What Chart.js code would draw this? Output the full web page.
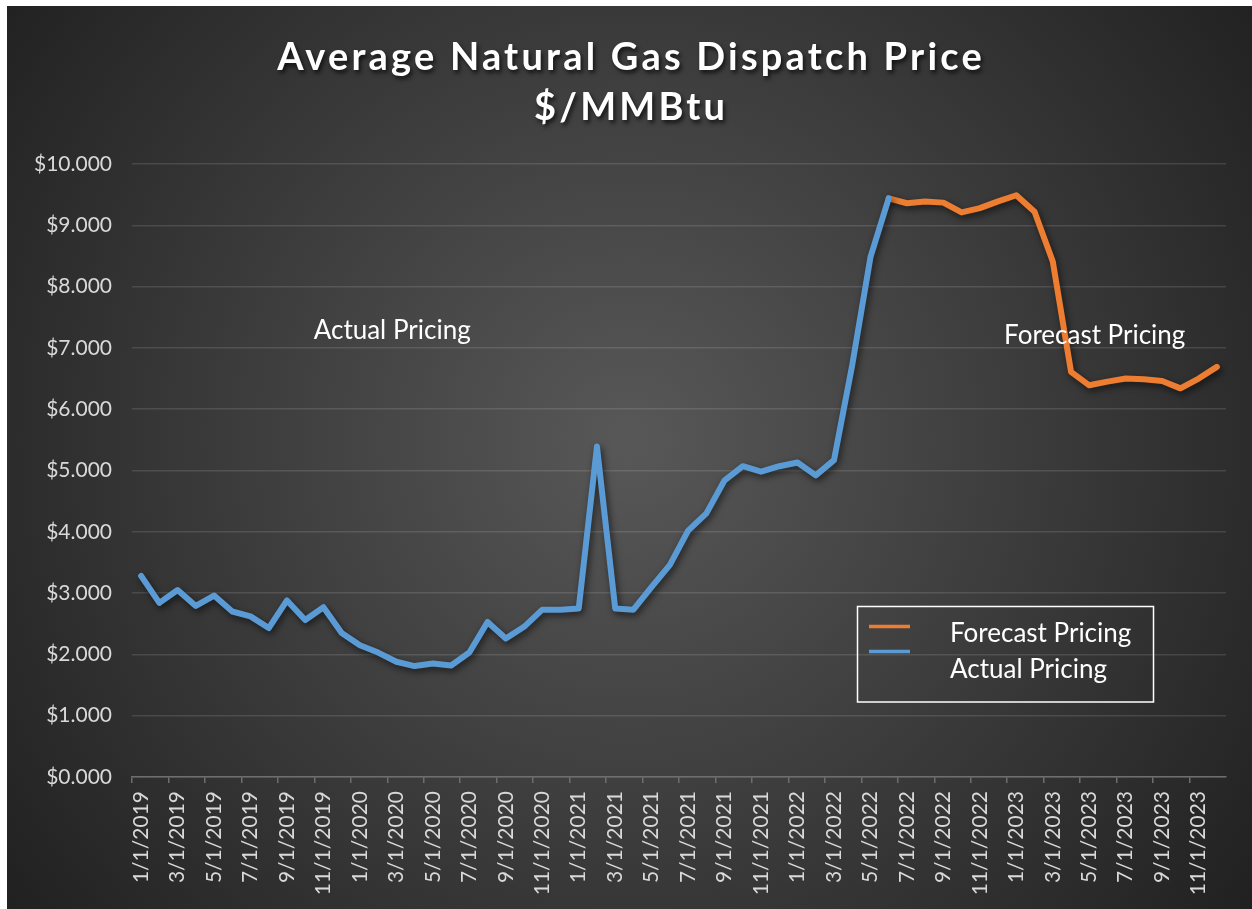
<!DOCTYPE html>
<html>
<head>
<meta charset="utf-8">
<script src="https://cdn.jsdelivr.net/npm/chart.js@4.4.1/dist/chart.umd.min.js"></script>
<style>
  html, body { margin: 0; padding: 0; background: #fff; }
  #wrap { position: absolute; left: 7px; top: 6px; width: 1245px; height: 903px; }
</style>
</head>
<body>
<div id="wrap"><canvas id="gasChart"></canvas></div>
<script>
const months = [
  '1/1/2019','2/1/2019','3/1/2019','4/1/2019','5/1/2019','6/1/2019','7/1/2019','8/1/2019','9/1/2019','10/1/2019','11/1/2019','12/1/2019',
  '1/1/2020','2/1/2020','3/1/2020','4/1/2020','5/1/2020','6/1/2020','7/1/2020','8/1/2020','9/1/2020','10/1/2020','11/1/2020','12/1/2020',
  '1/1/2021','2/1/2021','3/1/2021','4/1/2021','5/1/2021','6/1/2021','7/1/2021','8/1/2021','9/1/2021','10/1/2021','11/1/2021','12/1/2021',
  '1/1/2022','2/1/2022','3/1/2022','4/1/2022','5/1/2022','6/1/2022','7/1/2022','8/1/2022','9/1/2022','10/1/2022','11/1/2022','12/1/2022',
  '1/1/2023','2/1/2023','3/1/2023','4/1/2023','5/1/2023','6/1/2023','7/1/2023','8/1/2023','9/1/2023','10/1/2023','11/1/2023','12/1/2023'
];

// $/MMBtu, actual through 6/2022
const actualPricing = [
  3.28, 2.84, 3.05, 2.79, 2.96, 2.70, 2.62, 2.43, 2.88, 2.56, 2.77, 2.35,
  2.15, 2.03, 1.88, 1.81, 1.85, 1.82, 2.03, 2.53, 2.26, 2.45, 2.73, 2.73,
  2.75, 5.39, 2.75, 2.73, 3.10, 3.46, 4.02, 4.30, 4.84, 5.07, 4.98, 5.07,
  5.13, 4.92, 5.17, 6.72, 8.48, 9.44, null, null, null, null, null, null,
  null, null, null, null, null, null, null, null, null, null, null, null
];

// forecast from 6/2022 on
const forecastPricing = [
  null, null, null, null, null, null, null, null, null, null, null, null,
  null, null, null, null, null, null, null, null, null, null, null, null,
  null, null, null, null, null, null, null, null, null, null, null, null,
  null, null, null, null, null, 9.44, 9.36, 9.39, 9.37, 9.21, 9.28, 9.39,
  9.49, 9.22, 8.41, 6.61, 6.39, 6.45, 6.50, 6.49, 6.46, 6.34, 6.50, 6.69
];

const titleLines = ['Average Natural Gas Dispatch Price', '$/MMBtu'];
const FONT = 'Lato, "Open Sans", sans-serif';
const BLUE = '#5B9BD5';
const ORANGE = '#ED7D31';
const TICK_COLOR = '#d9d9d9';

const background = {
  id: 'background',
  beforeDraw(chart) {
    const { ctx, width, height } = chart;
    const g = ctx.createRadialGradient(width * 0.5, height * 0.48, 0, width * 0.5, height * 0.48, width * 0.62);
    g.addColorStop(0, '#585858');
    g.addColorStop(1, '#212121');
    ctx.save();
    ctx.fillStyle = g;
    ctx.fillRect(0, 0, width, height);
    ctx.restore();
  }
};

const lineShadow = {
  id: 'lineShadow',
  beforeDatasetsDraw(chart) {
    const ctx = chart.ctx;
    ctx.save();
    ctx.shadowColor = 'rgba(0,0,0,0.6)';
    ctx.shadowBlur = 7;
    ctx.shadowOffsetX = 2;
    ctx.shadowOffsetY = 3;
  },
  afterDatasetsDraw(chart) { chart.ctx.restore(); }
};

const decorations = {
  id: 'decorations',
  afterDraw(chart) {
    const { ctx, width } = chart;
    const x = chart.scales.x, y = chart.scales.y;

    // title
    ctx.save();
    ctx.fillStyle = '#ffffff';
    ctx.textAlign = 'center';
    ctx.textBaseline = 'alphabetic';
    ctx.shadowColor = 'rgba(0,0,0,0.7)';
    ctx.shadowBlur = 4;
    ctx.shadowOffsetX = 2;
    ctx.shadowOffsetY = 3;
    ctx.font = 'bold 38px ' + FONT;
    ctx.letterSpacing = '3.2px';
    ctx.fillText(titleLines[0], width / 2 + 1.6, 64);
    ctx.fillText(titleLines[1], width / 2 + 1.6, 114);
    ctx.restore();

    // text labels inside the plot
    ctx.save();
    ctx.fillStyle = '#ffffff';
    ctx.font = '26px ' + FONT;
    ctx.textAlign = 'center';
    ctx.textBaseline = 'middle';
    ctx.fillText('Actual Pricing', x.getPixelForValue(13.77), y.getPixelForValue(7.28));
    ctx.fillText('Forecast Pricing', x.getPixelForValue(52.3), y.getPixelForValue(7.2));
    ctx.restore();

    // legend box
    ctx.save();
    ctx.strokeStyle = '#ffffff';
    ctx.lineWidth = 1.5;
    ctx.strokeRect(850.5, 600.5, 296, 95.5);
    ctx.lineWidth = 3.5;
    ctx.strokeStyle = ORANGE;
    ctx.beginPath(); ctx.moveTo(862, 620.5); ctx.lineTo(903, 620.5); ctx.stroke();
    ctx.strokeStyle = BLUE;
    ctx.beginPath(); ctx.moveTo(862, 645.5); ctx.lineTo(903, 645.5); ctx.stroke();
    ctx.fillStyle = '#ffffff';
    ctx.font = '26px ' + FONT;
    ctx.textAlign = 'left';
    ctx.textBaseline = 'middle';
    ctx.fillText('Forecast Pricing', 943, 628);
    ctx.fillText('Actual Pricing', 943, 664);
    ctx.restore();
  }
};

new Chart(document.getElementById('gasChart'), {
  type: 'line',
  data: {
    labels: months,
    datasets: [
      { label: 'Actual Pricing', data: actualPricing, borderColor: BLUE, backgroundColor: BLUE, borderWidth: 6, pointRadius: 0, tension: 0, borderJoinStyle: 'round', borderCapStyle: 'round' },
      { label: 'Forecast Pricing', data: forecastPricing, borderColor: ORANGE, backgroundColor: ORANGE, borderWidth: 6, pointRadius: 0, tension: 0, borderJoinStyle: 'round', borderCapStyle: 'round' },
    ],
  },
  options: {
    responsive: true,
    maintainAspectRatio: false,
    animation: false,
    layout: { padding: { top: 158, right: 26, left: 0, bottom: 0 } },
    plugins: { legend: { display: false }, tooltip: { enabled: false }, title: { display: false } },
    scales: {
      x: {
        offset: true,
        grid: {
          offset: true,
          drawOnChartArea: false,
          drawTicks: true,
          tickLength: 6,
          lineWidth: 1.5,
          color: ctx => ctx.index % 2 === 0 ? '#6e6e6e' : 'transparent',
        },
        border: { color: '#6e6e6e', width: 1.5 },
        ticks: {
          autoSkip: false,
          minRotation: 90,
          maxRotation: 90,
          padding: 8,
          color: TICK_COLOR,
          font: { family: FONT, size: 21 },
          callback: (v, i) => i % 2 === 0 ? months[i] : '',
        },
        afterFit: s => { s.height = 132; },
      },
      y: {
        min: 0,
        max: 10,
        grid: { color: 'rgba(255,255,255,0.12)', lineWidth: 1.5, drawTicks: false },
        border: { display: false },
        ticks: {
          stepSize: 1,
          padding: 20,
          color: TICK_COLOR,
          font: { family: FONT, size: 21 },
          callback: v => '$' + v.toFixed(3),
        },
        afterFit: s => { s.width = 125; },
      },
    },
  },
  plugins: [background, lineShadow, decorations],
});
</script>
</body>
</html>
